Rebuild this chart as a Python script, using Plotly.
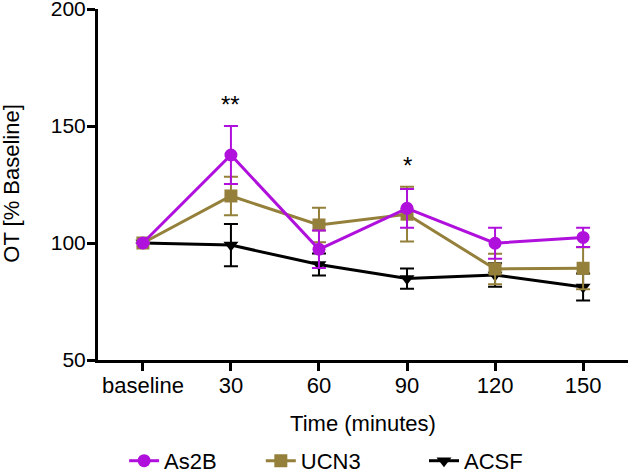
import plotly.graph_objects as go

categories = ["baseline", "30", "60", "90", "120", "150"]
as2b = [100, 137.6, 97.3, 114.8, 99.9, 102.4]
as2b_err = [0, 12.4, 8.0, 8.3, 6.6, 4.1]
ucn3 = [100, 120.1, 107.7, 112.3, 88.9, 89.2]
ucn3_err = [0, 8.2, 7.4, 11.7, 6.5, 9.0]
acsf = [100, 99.1, 90.8, 84.8, 86.3, 81.2]
acsf_err = [0, 9.0, 4.7, 4.3, 5.0, 5.8]

c_as2b = "#B010DC"
c_ucn3 = "#94803A"
c_acsf = "#000000"
FONT = "Liberation Sans, Arial, sans-serif"

xs = list(range(len(categories)))

fig = go.Figure()
series = [
    ("ACSF", acsf, acsf_err, c_acsf, "triangle-down", "legend3"),
    ("UCN3", ucn3, ucn3_err, c_ucn3, "square", "legend2"),
    ("As2B", as2b, as2b_err, c_as2b, "circle", "legend"),
]
for name, vals, errs, col, sym, leg in series:
    fig.add_trace(go.Scatter(
        x=xs, y=vals, name=name, mode="lines+markers",
        line=dict(color=col, width=3),
        marker=dict(symbol=sym, size=13, color=col),
        error_y=dict(type="data", array=errs, visible=True, color=col,
                     thickness=2, width=7),
        legend=leg, showlegend=True,
    ))

fig.add_annotation(x=1, y=159, text="**", showarrow=False,
                   font=dict(size=24, color="black", family=FONT))
fig.add_annotation(x=3, y=133, text="*", showarrow=False,
                   font=dict(size=24, color="black", family=FONT))
fig.add_annotation(xref="paper", yref="paper", x=-0.1623, y=0.505,
                   xanchor="center", yanchor="middle", textangle=-90,
                   text="OT [% Baseline]", showarrow=False,
                   font=dict(size=22, color="black", family=FONT))

legfont = dict(size=22, color="black", family=FONT)
legcommon = dict(xref="container", yref="container", xanchor="left",
                 yanchor="top", font=legfont, bgcolor="rgba(0,0,0,0)", y=0.066)
fig.update_layout(
    width=630, height=471,
    showlegend=True,
    margin=dict(l=98, r=2, t=9, b=111, autoexpand=False),
    plot_bgcolor="white", paper_bgcolor="white",
    font=dict(family=FONT, size=22, color="black"),
    xaxis=dict(
        range=[-0.51, 5.51], tickvals=xs, ticktext=categories,
        showline=True, linewidth=3, linecolor="black",
        ticks="outside", ticklen=8, tickwidth=2.5, tickcolor="black",
        tickfont=dict(size=22), ticklabelstandoff=-4,
        showgrid=False, zeroline=False,
        title=dict(text="Time (minutes)", standoff=19, font=dict(size=22)),
    ),
    yaxis=dict(
        range=[50, 200], tickvals=[50, 100, 150, 200],
        showline=True, linewidth=3, linecolor="black",
        ticks="outside", ticklen=8, tickwidth=2.5, tickcolor="black",
        tickfont=dict(size=21), ticklabeloverflow="allow", ticklabelstandoff=-3,
        showgrid=False, zeroline=False,
    ),
    legend=dict(x=0.197, **legcommon),
    legend2=dict(x=0.414, **legcommon),
    legend3=dict(x=0.673, **legcommon),
)

fig.write_html("out.html", config={"displayModeBar": False},
               post_script="document.body.style.margin='0';")
